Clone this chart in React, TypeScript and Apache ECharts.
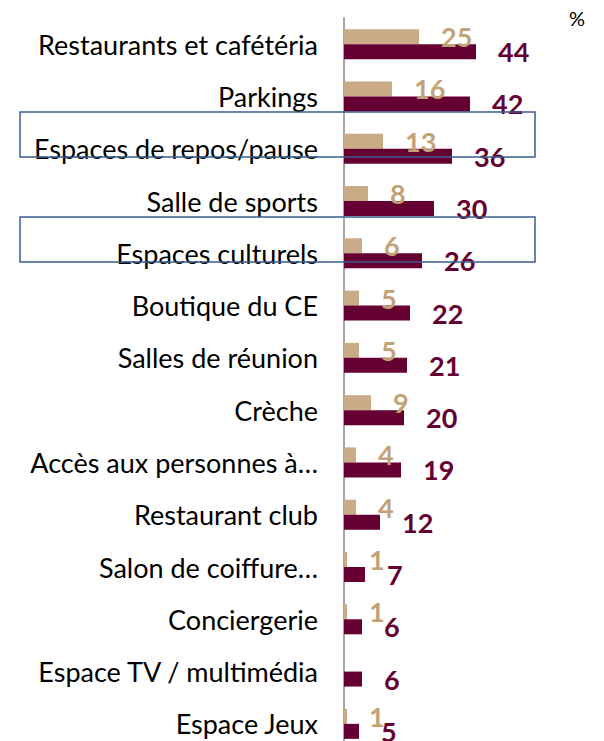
import React, { useEffect, useRef } from "react";
import * as echarts from "echarts";

const categories = [
  "Restaurants et cafétéria",
  "Parkings",
  "Espaces de repos/pause",
  "Salle de sports",
  "Espaces culturels",
  "Boutique du CE",
  "Salles de réunion",
  "Crèche",
  "Accès aux personnes à…",
  "Restaurant club",
  "Salon de coiffure…",
  "Conciergerie",
  "Espace TV / multimédia",
  "Espace Jeux",
];
const seriesTan: (number | null)[] = [25, 16, 13, 8, 6, 5, 5, 9, 4, 4, 1, 1, null, 1];
const seriesDark: number[] = [44, 42, 36, 30, 26, 22, 21, 20, 19, 12, 7, 6, 6, 5];

const TAN = "#C9AB88";
const TAN_LABEL = "#C4A278";
const DARK = "#660033";
const FONT = "Lato, 'Open Sans', sans-serif";

export default function App() {
  const ref = useRef<HTMLDivElement>(null);
  useEffect(() => {
    if (!ref.current) return;
    const chart = echarts.init(ref.current, null, { renderer: "svg" });
    chart.setOption({
      animation: false,
      backgroundColor: "#ffffff",
      grid: { left: 344, top: 18, width: 240, height: 732, containLabel: false },
      xAxis: { type: "value", min: 0, max: 80, show: false },
      yAxis: {
        type: "category",
        data: categories,
        inverse: true,
        axisLine: { show: true, lineStyle: { color: "#A6A6A6", width: 2 } },
        axisTick: { show: false },
        axisLabel: {
          margin: 26,
          color: "#000000",
          fontFamily: FONT,
          fontSize: 27,
        },
      },
      series: [
        {
          type: "bar",
          data: seriesTan,
          barWidth: 15,
          barGap: "0%",
          itemStyle: { color: TAN },
          label: {
            show: true,
            position: "right",
            distance: 22,
            color: TAN_LABEL,
            fontFamily: FONT,
            fontWeight: "bold",
            fontSize: 27,
          },
        },
        {
          type: "bar",
          data: seriesDark,
          barWidth: 15,
          barGap: "0%",
          itemStyle: { color: DARK },
          label: {
            show: true,
            position: "right",
            distance: 22,
            color: DARK,
            fontFamily: FONT,
            fontWeight: "bold",
            fontSize: 27,
          },
        },
      ],
      graphic: [
        {
          type: "text",
          left: 569,
          top: 8,
          style: { text: "%", fontSize: 20, fontFamily: FONT, fill: "#000" },
        },
        {
          type: "rect",
          shape: { x: 20, y: 112, width: 515, height: 45 },
          style: { fill: "none", stroke: "#3B5E8F", lineWidth: 1.5 },
          z: 100,
        },
        {
          type: "rect",
          shape: { x: 20, y: 217, width: 515, height: 45 },
          style: { fill: "none", stroke: "#3B5E8F", lineWidth: 1.5 },
          z: 100,
        },
      ],
    });
    return () => chart.dispose();
  }, []);
  return (
    <div
      ref={ref}
      style={{ position: "fixed", left: 0, top: 0, width: 604, height: 760 }}
    />
  );
}
